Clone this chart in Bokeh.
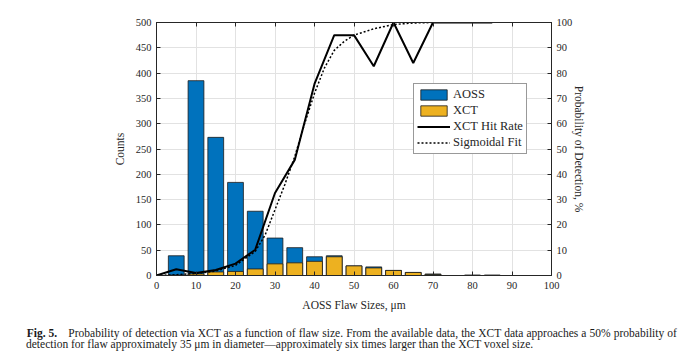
from bokeh.plotting import figure
from bokeh.layouts import column
from bokeh.models import Range1d, LinearAxis, FixedTicker, Legend, LegendItem, Div
from bokeh.embed import file_html
from bokeh.resources import INLINE

# ---- data ----
sizes = [5, 10, 15, 20, 25, 30, 35, 40, 45, 50, 55, 60, 65, 70, 75, 80, 85]
aoss_counts = [39, 385, 273, 184, 127, 74, 55, 37, 39, 19, 17, 10, 6, 3, 0, 1, 1]
xct_counts = [1, 3, 7, 8, 13, 23, 25, 28, 37, 19, 15, 10, 6, 2, 0, 0, 0]

hit_x = [0, 5, 10, 15, 20, 25, 30, 35, 40, 45, 50, 55, 60, 65, 70, 75, 80, 85]
hit_rate = [0, 2.5, 1, 2.2, 4.7, 10.2, 32.6, 45.7, 75.7, 95, 95, 82.7, 100, 84, 100, 100, 100, 100]

sig_x = [0, 5, 10, 15, 20, 25, 27.5, 30, 32.5, 35, 37.5, 40, 42.5, 45, 47.5, 50, 55, 60, 65, 70]
sig_fit = [0, 0.3, 0.8, 1.8, 4, 9.5, 16, 26, 36, 47, 60, 72, 82, 89, 92.5, 95, 97.5, 99.2, 99.8, 100]

x_ticks = [0, 10, 20, 30, 40, 50, 60, 70, 80, 90, 100]
count_ticks = [0, 50, 100, 150, 200, 250, 300, 350, 400, 450, 500]
pod_ticks = [0, 10, 20, 30, 40, 50, 60, 70, 80, 90, 100]

caption_bold = "Fig. 5."
caption_line1 = ("Probability of detection via XCT as a function of flaw size. From the available data, "
                 "the XCT data approaches a 50% probability of")
caption_line2 = ("detection for flaw approximately 35 μm in diameter—approximately six times larger "
                 "than the XCT voxel size.")

BLUE = "#0072BD"
YELLOW = "#EDB120"
AX = "#262626"
SERIF = "Liberation Serif"

W, H = 695, 318
p = figure(width=W, height=H, output_backend="svg", toolbar_location=None,
           x_range=Range1d(0, 100), y_range=Range1d(0, 500),
           min_border_left=156, min_border_right=144, min_border_top=22, min_border_bottom=43)
p.extra_y_ranges = {"pod": Range1d(0, 100)}
p.outline_line_color = AX
p.outline_line_width = 1
p.background_fill_color = "white"
p.border_fill_color = "white"

# grids
p.xgrid.ticker = FixedTicker(ticks=x_ticks)
p.ygrid.ticker = FixedTicker(ticks=count_ticks)
for g in (p.xgrid, p.ygrid):
    g.grid_line_color = "#e2e2e2"
    g.grid_line_width = 1

# bars
r_aoss = p.vbar(x=sizes, top=aoss_counts, width=4, bottom=0, fill_color=BLUE,
                line_color="#1a1a1a", line_width=0.8)
r_xct = p.vbar(x=sizes, top=xct_counts, width=4, bottom=0, fill_color=YELLOW,
               line_color="#1a1a1a", line_width=0.8)

# lines on right axis
r_hit = p.line(hit_x, hit_rate, y_range_name="pod", line_color="black", line_width=2)
r_sig = p.line(sig_x, sig_fit, y_range_name="pod", line_color="black", line_width=1.5,
               line_dash="2 2")

def style_axis(ax, ticks, fs="10.5px"):
    ax.ticker = FixedTicker(ticks=ticks)
    ax.axis_line_color = AX
    ax.major_tick_line_color = AX
    ax.minor_tick_line_color = None
    ax.major_tick_in = 4
    ax.major_tick_out = 0
    ax.major_label_text_font = SERIF
    ax.major_label_text_font_size = fs
    ax.major_label_text_color = AX
    ax.axis_label_text_font = SERIF
    ax.axis_label_text_font_size = "11.5px"
    ax.axis_label_text_font_style = "normal"
    ax.axis_label_text_color = AX

# bottom x axis
xa = p.xaxis[0]
style_axis(xa, x_ticks)
xa.major_label_standoff = 6
xa.axis_label = "AOSS Flaw Sizes, μm"
xa.axis_label_standoff = 7

# left y axis
ya = p.yaxis[0]
style_axis(ya, count_ticks)
ya.major_label_standoff = 5
ya.axis_label = "Counts"
ya.axis_label_standoff = 7

# right y axis
ra = LinearAxis(y_range_name="pod")
style_axis(ra, pod_ticks)
ra.major_label_standoff = 5
ra.axis_label = "Probability of Detection, %"
ra.axis_label_standoff = -2
p.add_layout(ra, "right")

# top axis (ticks only)
ta = LinearAxis()
style_axis(ta, x_ticks)
ta.major_label_text_font_size = "1px"
ta.major_label_text_alpha = 0
ta.major_label_standoff = 0
p.add_layout(ta, "above")

# legend
legend = Legend(items=[
    LegendItem(label="AOSS", renderers=[r_aoss]),
    LegendItem(label="XCT", renderers=[r_xct]),
    LegendItem(label="XCT Hit Rate", renderers=[r_hit]),
    LegendItem(label="Sigmoidal Fit", renderers=[r_sig]),
], location=(257, 121))
legend.label_text_font = SERIF
legend.label_text_font_size = "12.5px"
legend.label_text_color = AX
legend.glyph_width = 33
legend.glyph_height = 13
legend.label_height = 15
legend.label_standoff = 3
legend.spacing = 1
legend.padding = 3
legend.margin = 0
legend.border_line_color = "#333333"
legend.border_line_width = 1
legend.background_fill_color = "white"
legend.background_fill_alpha = 1
p.add_layout(legend)

# caption as HTML text below the plot
base = "position:absolute; white-space:nowrap; font-family:'Liberation Serif'; font-size:11.5px; line-height:12px; color:#1a1a1a;"
cap_html = (
    f'<div style="{base} left:26.7px; top:9px; font-weight:bold;">{caption_bold}</div>'
    f'<div style="{base} left:68.3px; top:9px; word-spacing:0.25px;">{caption_line1}</div>'
    f'<div style="{base} left:26px; top:20px;">{caption_line2}</div>'
)
cap = Div(text=cap_html, width=W, height=42, margin=0,
          styles={"position": "relative", "overflow": "visible"})

layout = column(p, cap, spacing=0)
open("out.html", "w").write(file_html(layout, INLINE))
